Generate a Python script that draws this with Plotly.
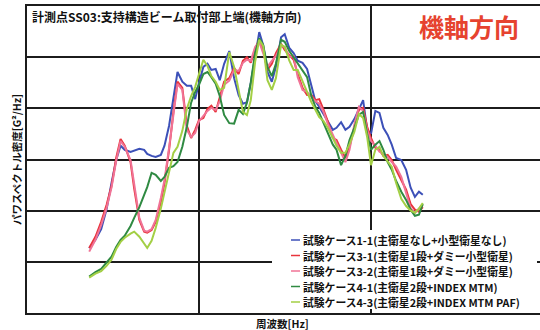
import plotly.graph_objects as go

# Frequency grid [Hz]
freq_hz = [23, 25, 27, 29, 31, 33, 35, 37, 40, 42,
           45, 48, 50, 53, 56, 60, 63, 67, 71, 75,
           80, 85, 90, 95, 100, 106, 112, 118, 125, 132,
           140, 150, 160, 170, 180, 190, 200, 212, 224, 236,
           250, 265, 280, 300, 315, 335, 355, 375, 400, 425,
           450, 475, 500, 530, 560, 600, 630, 670, 710, 750,
           800, 850, 900, 950, 1000, 1060, 1120, 1180, 1250, 1320,
           1400, 1500, 1600, 1700, 1800, 1900, 2000]

# PSD levels in dB re 1 G^2/Hz
case_1_1_db = [-57.3, -55.7, -53.6, -49.8, -44.6, -40.1, -37.3, -38.1, -38.5, -38.3,
               -37.9, -38.1, -38.9, -39.3, -39.5, -39.1, -37.3, -33.4, -28.2, -22.9,
               -24.8, -25.6, -25.6, -28.2, -25.0, -21.9, -21.3, -22.5, -22.3, -24.5,
               -21.3, -18.8, -24.1, -27.4, -29.1, -28.8, -25.0, -19.6, -15.1, -17.6,
               -22.9, -24.8, -21.9, -16.1, -15.5, -18.2, -19.2, -20.7, -21.1, -22.3,
               -25.8, -28.6, -29.7, -31.1, -32.5, -34.2, -33.8, -32.7, -34.2, -33.6,
               -32.1, -30.3, -28.4, -34.2, -35.0, -30.5, -30.9, -33.8, -35.2, -37.1,
               -39.7, -40.1, -42.0, -45.5, -47.3, -46.3, -46.9]

case_3_1_db = [-57.3, -55.1, -52.2, -48.9, -45.2, -39.7, -36.0, -37.3, -40.5, -45.7,
               -51.8, -54.1, -54.3, -53.8, -52.2, -48.3, -44.6, -38.1, -30.7, -24.8,
               -26.0, -33.4, -35.8, -34.2, -32.3, -31.9, -30.1, -29.5, -30.7, -28.0,
               -24.8, -24.1, -22.1, -23.3, -20.7, -20.0, -21.1, -18.4, -16.6, -18.6,
               -22.5, -21.3, -19.2, -17.4, -18.6, -19.6, -20.5, -23.3, -26.0, -27.4,
               -27.4, -28.4, -28.2, -30.3, -32.5, -35.8, -36.2, -38.1, -39.7, -37.5,
               -33.8, -30.3, -29.9, -33.6, -35.8, -37.7, -38.1, -39.3, -39.1, -40.1,
               -42.0, -44.0, -45.9, -48.7, -49.8, -50.2, -49.3]

case_3_2_db = [-58.0, -55.7, -52.8, -49.5, -45.5, -40.3, -36.4, -37.5, -40.1, -45.2,
               -51.4, -53.9, -54.1, -53.6, -51.8, -47.5, -44.0, -37.7, -31.3, -25.2,
               -26.4, -34.2, -35.6, -34.8, -32.5, -31.5, -30.5, -29.9, -30.3, -28.6,
               -25.4, -24.6, -22.5, -22.7, -21.1, -20.5, -20.7, -18.0, -17.0, -19.2,
               -21.9, -20.7, -19.8, -17.8, -18.0, -20.0, -19.8, -23.9, -26.4, -26.8,
               -27.8, -28.6, -29.1, -30.7, -33.0, -35.2, -36.6, -38.9, -40.5, -38.1,
               -33.2, -29.7, -30.5, -34.2, -36.4, -37.3, -38.5, -38.9, -39.5, -40.5,
               -41.4, -43.4, -46.7, -49.5, -50.4, -49.6, -48.9]

case_4_1_db = [-62.9, -62.0, -61.4, -60.2, -59.0, -57.1, -55.7, -54.9, -53.0, -51.4,
               -49.3, -46.9, -45.4, -42.6, -43.0, -44.2, -43.4, -41.6, -41.3, -40.5,
               -37.5, -33.6, -28.9, -26.8, -25.4, -23.3, -22.9, -23.9, -25.2, -27.6,
               -31.3, -32.9, -33.0, -30.3, -31.1, -28.9, -25.0, -19.2, -16.3, -17.6,
               -21.9, -23.7, -21.3, -16.6, -17.0, -18.8, -20.0, -21.1, -22.5, -23.9,
               -27.6, -29.7, -30.9, -33.0, -34.8, -37.1, -38.1, -41.1, -39.3, -36.2,
               -33.8, -31.3, -30.7, -35.0, -38.1, -37.1, -36.4, -38.1, -40.5, -42.0,
               -44.2, -46.3, -47.9, -49.8, -51.0, -50.8, -48.7]

case_4_3_db = [-63.1, -62.3, -61.8, -60.8, -59.6, -57.5, -56.1, -55.3, -54.5, -54.1,
               -55.1, -56.5, -57.3, -55.9, -53.4, -49.6, -46.3, -42.6, -38.7, -37.5,
               -34.4, -30.1, -27.6, -25.8, -23.5, -20.5, -21.7, -23.7, -24.8, -26.4,
               -26.0, -19.0, -21.9, -26.6, -30.7, -31.3, -28.4, -20.9, -16.6, -17.8,
               -24.5, -26.4, -24.1, -17.6, -18.0, -20.7, -22.5, -22.5, -24.6, -26.8,
               -28.8, -30.3, -31.7, -32.5, -33.8, -35.8, -37.3, -38.7, -38.7, -37.0,
               -34.6, -31.1, -31.9, -35.6, -41.1, -38.1, -37.5, -39.3, -40.3, -41.4,
               -44.6, -47.7, -49.1, -50.0, -50.4, -49.6, -48.5]

series_names = [
    "試験ケース1-1(主衛星なし+小型衛星なし)",
    "試験ケース3-1(主衛星1段+ダミー小型衛星)",
    "試験ケース3-2(主衛星1段+ダミー小型衛星)",
    "試験ケース4-1(主衛星2段+INDEX MTM)",
    "試験ケース4-3(主衛星2段+INDEX MTM PAF)",
]
series_db = [case_1_1_db, case_3_1_db, case_3_2_db, case_4_1_db, case_4_3_db]
series_colors = ["#3c50b8", "#e8343c", "#f07396", "#2f8a42", "#a3cf45"]

FONT = "Noto Sans CJK JP"
GRID = "#1c1c1c"

fig = go.Figure()
for name, db, color in zip(series_names, series_db, series_colors):
    psd = [10 ** (v / 10.0) for v in db]
    fig.add_trace(go.Scatter(x=freq_hz, y=psd, mode="lines", name=name,
                             line=dict(color=color, width=2)))

# plot-area geometry in pixels (for placing text and legend keys)
W, H = 540, 330
L, R, T, B = 27, 0, 6, 17
pw, ph = W - L - R, H - T - B


def px(xp):
    return (xp - L) / pw


def py(yp):
    return (H - B - yp) / ph


fig.update_layout(
    width=W, height=H,
    margin=dict(l=L, r=R, t=T, b=B, pad=0),
    paper_bgcolor="white", plot_bgcolor="white",
    showlegend=False,
    font=dict(family=FONT, color="black"),
    xaxis=dict(type="log", range=[1, 1 + pw / 172.0], dtick=1,
               showgrid=True, gridcolor=GRID, gridwidth=1.5,
               showticklabels=False, ticks="", zeroline=False,
               showline=True, linecolor=GRID, linewidth=1.5, mirror=True),
    yaxis=dict(type="log", range=[-7, -1], dtick=1,
               showgrid=True, gridcolor=GRID, gridwidth=1.5,
               showticklabels=False, ticks="", zeroline=False,
               showline=True, linecolor=GRID, linewidth=1.5),
)

annotations = [
    dict(text="<b>計測点SS03:支持構造ビーム取付部上端(機軸方向)</b>",
         x=px(30), y=py(16), xanchor="left", yanchor="middle",
         font=dict(size=12, family=FONT, color="#111")),
    dict(text="<b>機軸方向</b>", x=px(469), y=py(26),
         xanchor="center", yanchor="middle",
         font=dict(size=25, family=FONT, color="#e6432f")),
    dict(text="<b>パワスペクトル密度[G²/Hz]</b>", x=px(16), y=py(160),
         textangle=-90, xanchor="center", yanchor="middle",
         font=dict(size=10.5, family=FONT, color="#111")),
    dict(text="<b>周波数[Hz]</b>", x=px(282), y=py(323),
         xanchor="center", yanchor="middle",
         font=dict(size=10.5, family=FONT, color="#111")),
]

shapes = [dict(type="rect", xref="paper", yref="paper",
               x0=px(272), x1=px(537), y0=py(309), y1=py(230),
               fillcolor="white", line=dict(width=0), layer="above")]

row_y = [240, 255.5, 271, 286.5, 302]
for name, color, yy in zip(series_names, series_colors, row_y):
    shapes.append(dict(type="line", xref="paper", yref="paper",
                       x0=px(291), x1=px(300), y0=py(yy), y1=py(yy),
                       line=dict(color=color, width=1.5), layer="above"))
    annotations.append(dict(text="<b>" + name + "</b>", x=px(301), y=py(yy),
                            xanchor="left", yanchor="middle",
                            font=dict(size=10.8, family=FONT, color="#111")))

for a in annotations:
    a.update(xref="paper", yref="paper", showarrow=False)

fig.update_layout(annotations=annotations, shapes=shapes)
fig.write_html("out.html")
